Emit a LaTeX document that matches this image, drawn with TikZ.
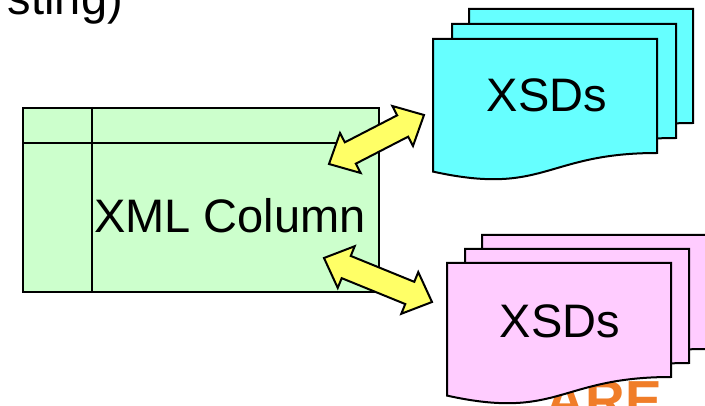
\documentclass[tikz,border=0pt]{standalone}
\usepackage{fontspec}
\setmainfont{Liberation Sans}
\usetikzlibrary{calc}

\definecolor{sheetcyan}{RGB}{102,255,255}
\definecolor{sheetpink}{RGB}{255,204,255}
\definecolor{tablegreen}{RGB}{204,255,204}
\definecolor{arrowyellow}{RGB}{255,255,102}
\definecolor{logoorange}{RGB}{240,125,40}

\tikzset{
  outline/.style={draw=black, line width=2pt, line join=miter},
  sheet/.style={outline},
  lbl/.style={inner sep=0pt, font=\fontsize{47}{56}\selectfont},
  bigarrow/.style={outline, fill=arrowyellow, line join=miter},
}

% flowchart "document" sheet: 224 x 142 units, wavy lower edge
\newcommand\docsheet[3]{%
  \draw[sheet, fill=#3, shift={(#1,#2)}]
    (0,0) -- (224,0) -- (224,114)
    .. controls (112,114) and (112,157.3) .. (0,132.6) -- cycle;}

% fat double-headed arrow between two tip points
\newcommand\arrowheadlen{24pt}
\newcommand\arrowheadhalf{22.5pt}
\newcommand\arrowshafthalf{12pt}
\newcommand\fatarrow[2]{%
  \draw[bigarrow]
    (#1)
    -- ($(#1)!\arrowheadlen!(#2)!\arrowheadhalf!90:(#2)$)
    -- ($(#1)!\arrowheadlen!(#2)!\arrowshafthalf!90:(#2)$)
    -- ($(#2)!\arrowheadlen!(#1)!\arrowshafthalf!-90:(#1)$)
    -- ($(#2)!\arrowheadlen!(#1)!\arrowheadhalf!-90:(#1)$)
    -- (#2)
    -- ($(#2)!\arrowheadlen!(#1)!\arrowheadhalf!90:(#1)$)
    -- ($(#2)!\arrowheadlen!(#1)!\arrowshafthalf!90:(#1)$)
    -- ($(#1)!\arrowheadlen!(#2)!\arrowshafthalf!-90:(#2)$)
    -- ($(#1)!\arrowheadlen!(#2)!\arrowheadhalf!-90:(#2)$)
    -- cycle;}

\begin{document}
\begin{tikzpicture}[x=1pt, y=-1pt]
  \useasboundingbox (0,0) rectangle (705,406);
  \clip (0,0) rectangle (705,406);

  % heading text, running off the left edge
  \node[lbl, anchor=base east] (heading) at (123,15) {sting)};

  % logo lettering behind the lower stack
  \node[inner sep=0pt, anchor=base east, text=logoorange,
        font=\bfseries\fontsize{55}{60}\selectfont] (logo) at (662,420) {ARE};

  % upper stack of schema documents
  \docsheet{469}{9}{sheetcyan}
  \docsheet{452}{24}{sheetcyan}
  \docsheet{433}{39}{sheetcyan}
  \node[lbl, anchor=base] (xsdtop) at (547,112) {XSDs};

  % lower stack of schema documents
  \docsheet{482}{235}{sheetpink}
  \docsheet{465}{249}{sheetpink}
  \docsheet{447}{263}{sheetpink}
  \node[lbl, anchor=base] (xsdbot) at (560,338) {XSDs};

  % table with the XML column
  \node[outline, fill=tablegreen, inner sep=0pt, minimum width=356pt,
        minimum height=184pt, anchor=north west] (tbl) at (22,107) {};
  \draw[outline] ($(tbl.north west)+(0,36)$) -- ($(tbl.north east)+(0,36)$);
  \draw[outline] ($(tbl.north west)+(70,0)$) -- ($(tbl.south west)+(70,0)$);
  \node[lbl, anchor=base] (xmlcol) at (230,233) {XML Column};

  % arrow end points
  \coordinate (upTbl) at (329,164);
  \coordinate (upXsd) at (424,115);
  \coordinate (loTbl) at (324,258);
  \coordinate (loXsd) at (432,302);

  \fatarrow{upTbl}{upXsd}
  \fatarrow{loTbl}{loXsd}
\end{tikzpicture}
\end{document}
